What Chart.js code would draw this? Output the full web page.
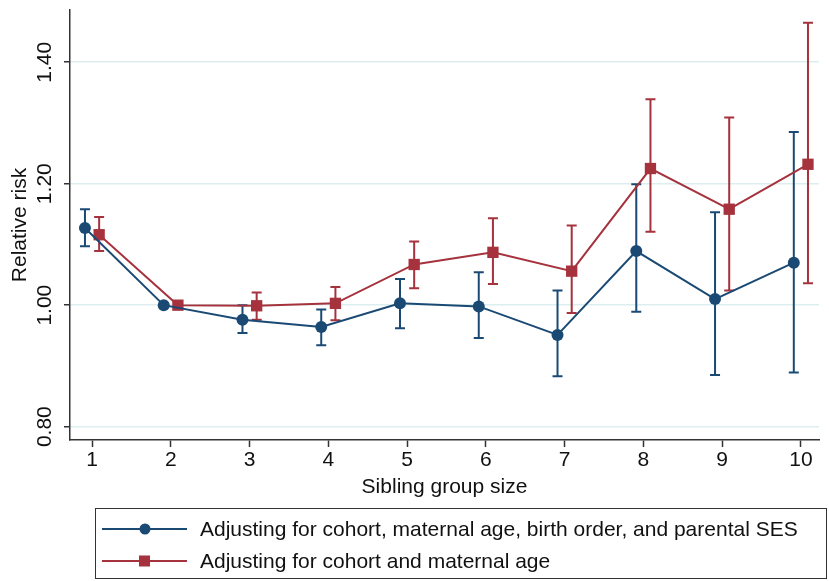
<!DOCTYPE html>
<html>
<head>
<meta charset="utf-8">
<script src="https://cdn.jsdelivr.net/npm/chart.js@4"></script>
<style>
  body { margin: 0; background: #fff; }
  #wrap { width: 829px; height: 581px; }
</style>
</head>
<body>
<div id="wrap"><canvas id="chart" width="829" height="581"></canvas></div>
<script>
// Data
const sizes = [1, 2, 3, 4, 5, 6, 7, 8, 9, 10];
const yTicks = [0.8, 1.0, 1.2, 1.4];

// Adjusting for cohort, maternal age, birth order, and parental SES
const fullRR = [1.127, 1.000, 0.976, 0.964, 1.003, 0.998, 0.951, 1.089, 1.010, 1.070];
const fullLo = [1.097, null, 0.954, 0.934, 0.962, 0.946, 0.883, 0.989, 0.885, 0.889];
const fullHi = [1.158, null, 1.000, 0.993, 1.043, 1.054, 1.024, 1.199, 1.153, 1.285];

// Adjusting for cohort and maternal age
const basicRR = [1.116, 1.000, 0.999, 1.003, 1.067, 1.087, 1.056, 1.225, 1.158, 1.232];
const basicLo = [1.089, null, 0.976, 0.975, 1.028, 1.035, 0.987, 1.121, 1.024, 1.036];
const basicHi = [1.145, null, 1.021, 1.030, 1.105, 1.143, 1.131, 1.339, 1.309, 1.465];

const blue = '#1a4a74';
const red = '#a5323c';
const font = '"Liberation Sans", Arial, sans-serif';
const fsize = 21;

// small shift so the two series don't sit on top of each other
const shift = 0.09;

function makePoints(vals, lo, hi, dx) {
    return sizes.map((s, i) => ({ x: s + dx, y: vals[i], lo: lo[i], hi: hi[i] }));
}

// error bars, drawn before the markers
const errorBars = {
    id: 'errorBars',
    beforeDatasetsDraw(chart) {
        const ctx = chart.ctx;
        const xs = chart.scales.x, ys = chart.scales.y;
        chart.data.datasets.forEach(ds => {
            ctx.save();
            ctx.strokeStyle = ds.borderColor;
            ctx.lineWidth = 2;
            ds.data.forEach(p => {
                if (p.lo == null) return;
                const x = xs.getPixelForValue(p.x);
                const y1 = ys.getPixelForValue(p.lo);
                const y2 = ys.getPixelForValue(p.hi);
                ctx.beginPath();
                ctx.moveTo(x, y1); ctx.lineTo(x, y2);
                ctx.moveTo(x - 5, y1); ctx.lineTo(x + 5, y1);
                ctx.moveTo(x - 5, y2); ctx.lineTo(x + 5, y2);
                ctx.stroke();
            });
            ctx.restore();
        });
    }
};

// rotated y tick labels + boxed legend
const extras = {
    id: 'extras',
    afterDraw(chart) {
        const ctx = chart.ctx;
        const ys = chart.scales.y;
        ctx.save();
        ctx.fillStyle = '#111';
        ctx.font = fsize + 'px ' + font;
        ctx.textAlign = 'center';
        ctx.textBaseline = 'middle';
        yTicks.forEach(v => {
            const y = ys.getPixelForValue(v);
            ctx.save();
            ctx.translate(45, y);
            ctx.rotate(-Math.PI / 2);
            ctx.fillText(v.toFixed(2), 0, 0);
            ctx.restore();
        });

        // legend
        ctx.strokeStyle = '#333';
        ctx.lineWidth = 1;
        ctx.strokeRect(95.5, 508.5, 731, 70);
        chart.data.datasets.forEach((ds, i) => {
            const y = 529 + i * 32;
            ctx.strokeStyle = ds.borderColor;
            ctx.lineWidth = 2;
            ctx.beginPath();
            ctx.moveTo(102, y); ctx.lineTo(187, y);
            ctx.stroke();
            ctx.fillStyle = ds.borderColor;
            if (ds.pointStyle === 'rect') {
                ctx.fillRect(139, y - 5.5, 11, 11);
            } else {
                ctx.beginPath();
                ctx.arc(145, y, 5.5, 0, Math.PI * 2);
                ctx.fill();
            }
            ctx.fillStyle = '#111';
            ctx.textAlign = 'left';
            ctx.fillText(ds.label, 200, y + 1);
        });
        ctx.restore();
    }
};

new Chart(document.getElementById('chart'), {
    type: 'line',
    data: {
        datasets: [
            {
                label: 'Adjusting for cohort, maternal age, birth order, and parental SES',
                data: makePoints(fullRR, fullLo, fullHi, -shift),
                borderColor: blue,
                backgroundColor: blue,
                borderWidth: 2,
                pointStyle: 'circle',
                pointRadius: 6,
                pointBorderWidth: 0
            },
            {
                label: 'Adjusting for cohort and maternal age',
                data: makePoints(basicRR, basicLo, basicHi, shift),
                borderColor: red,
                backgroundColor: red,
                borderWidth: 2,
                pointStyle: 'rect',
                pointRadius: 8,
                pointBorderWidth: 0
            }
        ]
    },
    options: {
        responsive: false,
        animation: false,
        layout: { padding: { top: 10, right: 10, bottom: 81, left: 0 } },
        plugins: { legend: { display: false }, tooltip: { enabled: false } },
        scales: {
            x: {
                type: 'linear',
                min: 0.72,
                max: 10.23,
                afterBuildTicks: s => { s.ticks = sizes.map(v => ({ value: v })); },
                afterFit: s => { s.height = 60; },
                grid: { drawOnChartArea: false, drawTicks: true, tickLength: 7, tickColor: '#333', tickWidth: 1.5 },
                border: { color: '#333', width: 1.5 },
                ticks: { color: '#111', font: { family: font, size: fsize }, padding: 1, maxRotation: 0 },
                title: { display: true, text: 'Sibling group size', color: '#111', font: { family: font, size: fsize }, padding: 0 }
            },
            y: {
                min: 0.778,
                max: 1.486,
                afterBuildTicks: s => { s.ticks = yTicks.map(v => ({ value: v })); },
                afterFit: s => { s.width = 70; },
                grid: { color: '#ddeef0', lineWidth: 1.5, drawTicks: true, tickLength: 6, tickColor: '#333', tickWidth: 1.5 },
                border: { color: '#333', width: 1.5 },
                ticks: { display: false },
                title: { display: true, text: 'Relative risk', color: '#111', font: { family: font, size: fsize }, padding: { top: 8, bottom: 0 } }
            }
        }
    },
    plugins: [errorBars, extras]
});
</script>
</body>
</html>
